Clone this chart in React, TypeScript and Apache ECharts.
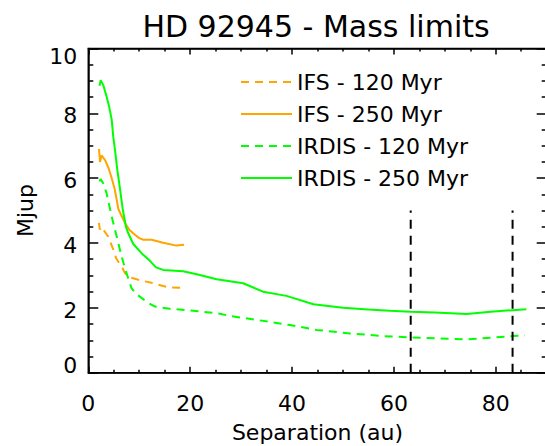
import React, { useEffect, useRef } from "react";
import * as echarts from "echarts";

const titleText = "HD 92945 - Mass limits";
const xName = "Separation (au)";
const yName = "Mjup";
const seriesNames = ["IFS - 120 Myr", "IFS - 250 Myr", "IRDIS - 120 Myr", "IRDIS - 250 Myr"];

const ifs120: number[][] = [
  [2.1, 4.62], [2.25, 4.42], [2.7, 4.5], [3.0, 4.4], [3.9, 4.2], [4.9, 3.8], [5.5, 3.52],
  [5.9, 3.42], [6.55, 3.28], [7.2, 3.07], [8.2, 2.94], [9.5, 2.88], [11.0, 2.82], [12.8, 2.76],
  [14.5, 2.68], [16.0, 2.63], [18.7, 2.62],
];
const ifs250: number[][] = [
  [2.1, 6.9], [2.3, 6.5], [2.6, 6.7], [3.3, 6.56], [4.0, 6.3], [4.6, 6.0], [5.2, 5.65],
  [5.9, 5.05], [6.5, 4.85], [7.2, 4.62], [8.0, 4.42], [8.8, 4.3], [10.0, 4.15], [10.8, 4.1],
  [12.4, 4.1], [14.7, 4.01], [17.3, 3.92], [18.8, 3.95],
];
const irdis120: number[][] = [
  [2.2, 5.9], [2.4, 5.97], [2.9, 5.85], [3.6, 5.53], [4.6, 4.81], [5.57, 4.2], [6.55, 3.58],
  [7.5, 3.07], [8.5, 2.6], [9.5, 2.42], [10.5, 2.3], [11.8, 2.15], [13.1, 2.04], [16.0, 1.97],
  [19.3, 1.93], [22.5, 1.88], [25.8, 1.82], [27.8, 1.75], [33.0, 1.63], [39.6, 1.47],
  [44.8, 1.32], [51.4, 1.21], [57.9, 1.13], [63.3, 1.09], [68.0, 1.06], [74.3, 1.03],
  [79.0, 1.08], [83.3, 1.13], [85.7, 1.15],
];
const irdis250: number[][] = [
  [2.2, 8.85], [2.43, 9.02], [2.94, 8.87], [3.6, 8.51], [4.1, 8.2], [4.6, 7.8], [4.9, 7.28],
  [5.24, 6.87], [5.7, 6.25], [6.2, 5.7], [6.75, 5.05], [7.4, 4.5], [7.85, 4.3], [8.83, 3.97],
  [10.5, 3.68], [12.1, 3.45], [13.3, 3.25], [14.7, 3.17], [18.6, 3.13], [21.5, 3.03],
  [25.2, 2.88], [30.4, 2.76], [34.3, 2.5], [38.9, 2.37], [44.2, 2.11], [50.0, 2.0],
  [55.0, 1.95], [59.2, 1.91], [63.3, 1.88], [68.0, 1.86], [74.3, 1.81], [79.0, 1.88],
  [83.3, 1.93], [86.0, 1.96],
];
const separationMarks = [63.3, 83.3];
const markTop = 5;

const ORANGE = "#FFA500";
const GREEN = "#00FF00";
const FONT = "DejaVu Sans";

export default function App() {
  const ref = useRef<HTMLDivElement>(null);
  useEffect(() => {
    if (!ref.current) return;
    const chart = echarts.init(ref.current, undefined, { renderer: "svg" });
    const axLine = () => ({ show: true, onZero: false, lineStyle: { color: "#000", width: 1.5 } });
    const tick = (len: number) => ({ show: true, inside: true, length: len, lineStyle: { color: "#000", width: 1.5 } });
    const minor = (len: number) => ({ show: true, splitNumber: 4, length: len, lineStyle: { color: "#000", width: 1.5 } });
    const labelFont = () => ({ fontFamily: FONT, fontSize: 22, color: "#000" });
    const mkLine = (name: string, data: number[][], color: string, dashed: boolean) => ({
      name,
      type: "line",
      xAxisIndex: 0,
      yAxisIndex: 0,
      data,
      showSymbol: false,
      symbol: "none",
      smooth: false,
      lineStyle: { color, width: 2, type: dashed ? [8, 6] : "solid" },
      itemStyle: { color },
      silent: true,
    });
    const markSeries = separationMarks.map((x, i) => ({
      name: "mark" + i,
      type: "line",
      xAxisIndex: 1,
      yAxisIndex: 1,
      data: [[x, 0], [x, markTop]],
      showSymbol: false,
      symbol: "none",
      lineStyle: { color: "#000", width: 2, type: [9, 7] },
      silent: true,
    }));
    chart.setOption({
      animation: false,
      backgroundColor: "#fff",
      title: {
        text: titleText,
        left: 316,
        textAlign: "center",
        top: 11,
        padding: 0,
        textStyle: { fontFamily: FONT, fontSize: 30, fontWeight: "normal", color: "#000" },
      },
      legend: {
        data: seriesNames,
        orient: "vertical",
        left: 240,
        top: 70,
        padding: 0,
        itemWidth: 51,
        itemHeight: 24,
        itemGap: 8,
        selectedMode: false,
        itemStyle: { opacity: 0 },
        textStyle: { fontFamily: FONT, fontSize: 22, color: "#000", lineHeight: 24 },
      },
      grid: {
        left: 88.3,
        top: 48.5,
        width: 458.4,
        height: 324.2,
        containLabel: false,
        outerBoundsMode: "none",
        show: true,
        backgroundColor: "transparent",
        borderColor: "#000",
        borderWidth: 1.5,
      },
      xAxis: [
        {
          type: "value",
          min: 0,
          max: 90,
          interval: 20,
          position: "bottom",
          splitLine: { show: false },
          axisLine: axLine(),
          axisTick: tick(6),
          minorTick: minor(3),
          name: xName,
          nameLocation: "middle",
          nameGap: 49,
          nameTextStyle: labelFont(),
          axisLabel: { show: true, margin: 20, showMaxLabel: false, ...labelFont() },
        },
        {
          type: "value",
          min: 0,
          max: 90,
          interval: 20,
          position: "top",
          splitLine: { show: false },
          axisLine: axLine(),
          axisTick: tick(6),
          minorTick: minor(3),
          axisLabel: { show: false },
        },
      ],
      yAxis: [
        {
          type: "value",
          min: 0,
          max: 10,
          interval: 2,
          position: "left",
          splitLine: { show: false },
          axisLine: axLine(),
          name: yName,
          nameLocation: "middle",
          nameGap: 52,
          nameTextStyle: labelFont(),
          axisTick: tick(10),
          minorTick: minor(5),
          axisLabel: {
            show: true,
            margin: 11,
            ...labelFont(),
            formatter: (v: number) => (v === 0 ? "{lo|" + v + "}" : v === 10 ? "{hi|" + v + "}" : "{mid|" + v + "}"),
            rich: {
              lo: { ...labelFont(), padding: [0, 0, 14, 0] },
              hi: { ...labelFont(), padding: [16, 0, 0, 0] },
              mid: { ...labelFont(), padding: [5, 0, 0, 0] },
            },
          },
        },
        {
          type: "value",
          min: 0,
          max: 10,
          interval: 2,
          position: "right",
          splitLine: { show: false },
          axisLine: axLine(),
          axisTick: tick(10),
          minorTick: minor(5),
          axisLabel: { show: false },
        },
      ],
      series: [
        mkLine(seriesNames[0], ifs120, ORANGE, true),
        mkLine(seriesNames[1], ifs250, ORANGE, false),
        mkLine(seriesNames[2], irdis120, GREEN, true),
        mkLine(seriesNames[3], irdis250, GREEN, false),
        ...markSeries,
      ],
    });
    return () => chart.dispose();
  }, []);
  return (
    <div
      ref={ref}
      style={{ position: "absolute", left: 0, top: 0, width: 545, height: 446 }}
    />
  );
}
